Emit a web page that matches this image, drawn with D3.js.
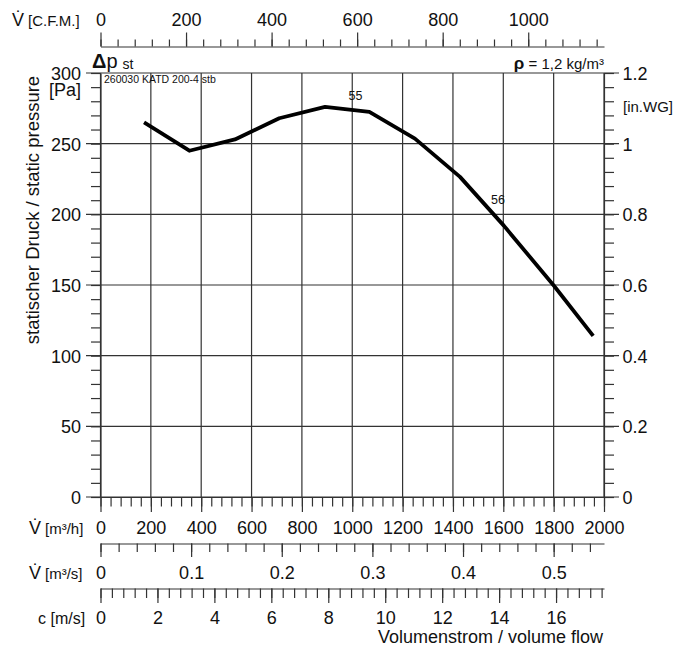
<!DOCTYPE html>
<html>
<head>
<meta charset="utf-8">
<title>Fan curve</title>
<script src="https://d3js.org/d3.v7.min.js"></script>
<style>
  body { margin: 0; padding: 0; background: #fff; overflow: hidden; }
  svg text { font-family: "Liberation Sans", Arial, Helvetica, sans-serif; fill: #111; }
  .domain, .tick line { stroke: #333; }
</style>
</head>
<body>
<svg id="chart" width="693" height="651"></svg>
<script>
// curve: flow in m3/h, static pressure in Pa
var flowM3h = [173, 353, 534, 710, 892, 1068, 1249, 1428, 1602, 1802, 1957];
var pressurePa = [265, 245, 253, 268, 276, 272.5, 253.6, 226.5, 192, 149.3, 114];
var curveLabels = [{text: "55", flow: 1013, pa: 281}, {text: "56", flow: 1579, pa: 207.5}];

var paTicks = [0, 50, 100, 150, 200, 250, 300];
var inwgTicks = [0, 0.2, 0.4, 0.6, 0.8, 1, 1.2];
var m3hTicks = [0, 200, 400, 600, 800, 1000, 1200, 1400, 1600, 1800, 2000];
var cfmTicks = [0, 200, 400, 600, 800, 1000];
var m3sTicks = [0, 0.1, 0.2, 0.3, 0.4, 0.5];
var cTicks = [0, 2, 4, 6, 8, 10, 12, 14, 16];

var CFM = 1.699;          // m3/h per CFM
var PA_PER_INWG = 250;
var DUCT_AREA = Math.PI * 0.1 * 0.1; // 200 mm duct

var svg = d3.select("#chart");
var plotL = 100.5, plotR = 604, plotT = 73, plotB = 497;

var x = d3.scaleLinear().domain([0, 2000]).range([plotL, plotR]);
var y = d3.scaleLinear().domain([0, 300]).range([plotB, plotT]);
var xCfm = d3.scaleLinear().domain([0, 2000 / CFM]).range([plotL, plotR]);
var xM3s = d3.scaleLinear().domain([0, 2000 / 3600]).range([plotL, plotR]);
var xC = d3.scaleLinear().domain([0, 2000 / 3600 / DUCT_AREA]).range([plotL, plotR]);
var yIn = d3.scaleLinear().domain([0, 300 / PA_PER_INWG]).range([plotB, plotT]);

function steps(a, b, s) {
  var out = [];
  for (var i = 0; a + i * s <= b + 1e-9; i++) out.push(+(a + i * s).toFixed(4));
  return out;
}

// helper: axis with minor ticks and major labelled ticks
function doubleAxis(axisFn, scale, minor, major, minorSize, majorSize, transform, fmt) {
  var g = svg.append("g").attr("transform", transform);
  g.append("g").call(axisFn(scale).tickValues(minor).tickSize(minorSize).tickSizeOuter(0).tickFormat(""))
    .selectAll("text").remove();
  var gm = g.append("g").call(axisFn(scale).tickValues(major).tickSize(majorSize).tickSizeOuter(0).tickFormat(fmt));
  gm.select(".domain").remove();
  g.selectAll("line, path").attr("stroke", "#333").attr("stroke-width", 1.2);
  return gm;
}

// top axis C.F.M.
var gTop = doubleAxis(d3.axisTop, xCfm, steps(0, 1160, 40), cfmTicks, 7, 14, "translate(0,46.5)", d3.format("d"));
gTop.selectAll("text").attr("y", -20.5).attr("dy", 0).attr("font-size", 18);

// bottom m3/h axis
var gH = doubleAxis(d3.axisBottom, x, steps(0, 2000, 40), m3hTicks, 9.5, 15, "translate(0," + plotB + ")", d3.format("d"));
gH.selectAll("text").attr("y", 37).attr("dy", 0).attr("font-size", 18);

// m3/s axis
var gS = doubleAxis(d3.axisBottom, xM3s, steps(0, 0.54, 0.02), m3sTicks, 8.5, 13.5, "translate(0,543.5)", d => d === 0 ? "0" : d3.format(".1f")(d));
gS.selectAll("text").attr("y", 35.5).attr("dy", 0).attr("font-size", 18);

// c m/s axis
var gC = doubleAxis(d3.axisBottom, xC, steps(0, 17.6, 0.4), cTicks, 9.5, 14.5, "translate(0,588.5)", d3.format("d"));
gC.selectAll("text").attr("y", 35.5).attr("dy", 0).attr("font-size", 18);

// left Pa axis (major lines come from the grid)
var gL = doubleAxis(d3.axisLeft, y, steps(0, 300, 10), paTicks, 9.5, 14.5, "translate(" + plotL + ",0)", d3.format("d"));
gL.selectAll("line").remove();
gL.selectAll("text").attr("x", -19.5).attr("dy", "0.36em").attr("font-size", 18);

// right in.WG axis
var gR = doubleAxis(d3.axisRight, yIn, steps(0, 1.2, 0.04), inwgTicks, 10, 15, "translate(" + plotR + ",0)", d => d === 0 || d === 1 ? d3.format("d")(d) : d3.format(".1f")(d));
gR.selectAll("line").remove();
gR.selectAll("text").attr("x", 18.5).attr("dy", "0.36em").attr("font-size", 18);

// grid
svg.append("g").selectAll("line").data(paTicks).join("line")
  .attr("x1", 86).attr("x2", 619)
  .attr("y1", d => y(d)).attr("y2", d => y(d))
  .attr("stroke", "#333").attr("stroke-width", 1.2);
svg.append("g").selectAll("line").data(m3hTicks.slice(1, -1)).join("line")
  .attr("x1", d => x(d)).attr("x2", d => x(d))
  .attr("y1", plotT).attr("y2", plotB)
  .attr("stroke", "#333").attr("stroke-width", 1.2);
svg.append("g").selectAll("line").data([0, 2000]).join("line")
  .attr("x1", d => x(d)).attr("x2", d => x(d))
  .attr("y1", plotT).attr("y2", plotB)
  .attr("stroke", "#333").attr("stroke-width", 1.2);

// curve
var pts = flowM3h.map((f, i) => [f, pressurePa[i]]);
svg.append("path")
  .attr("d", d3.line().x(d => x(d[0])).y(d => y(d[1]))(pts))
  .attr("fill", "none").attr("stroke", "#000").attr("stroke-width", 3.8)
  .attr("stroke-linejoin", "round");

svg.append("g").selectAll("text").data(curveLabels).join("text")
  .attr("x", d => x(d.flow)).attr("y", d => y(d.pa))
  .attr("text-anchor", "middle").attr("font-size", 12.5)
  .text(d => d.text);

// axis titles and notes
function vdot(xx, yy, unit) {
  var tx = svg.append("text").attr("x", xx).attr("y", yy).attr("font-size", 18);
  tx.append("tspan").text("V\u0307");
  tx.append("tspan").attr("font-size", 15).attr("dx", 4).text(unit);
  return tx;
}
vdot(12, 26, "[C.F.M.]");
vdot(29, 534, "[m³/h]");
vdot(29, 579, "[m³/s]");
svg.append("text").attr("x", 38).attr("y", 624).attr("font-size", 16).text("c [m/s]");

svg.append("text").attr("x", 603).attr("y", 643).attr("text-anchor", "end").attr("font-size", 18)
  .text("Volumenstrom / volume flow");

svg.append("text").attr("x", 81).attr("y", 96).attr("text-anchor", "end").attr("font-size", 18).text("[Pa]");
svg.append("text").attr("x", 623).attr("y", 112).attr("font-size", 15).text("[in.WG]");

svg.append("text").attr("transform", "translate(39,210) rotate(-90)")
  .attr("text-anchor", "middle").attr("font-size", 18.5)
  .text("statischer Druck / static pressure");

var dp = svg.append("text").attr("x", 92).attr("y", 68).attr("font-size", 20);
dp.append("tspan").attr("font-weight", "bold").text("Δ");
dp.append("tspan").text("p");
dp.append("tspan").attr("font-size", 14).attr("dx", 5).attr("dy", 1).text("st");

svg.append("text").attr("x", 104).attr("y", 83).attr("font-size", 10.5).text("260030 KATD 200-4 stb");

var rho = svg.append("text").attr("x", 604).attr("y", 69).attr("text-anchor", "end").attr("font-size", 15);
rho.append("tspan").attr("font-weight", "bold").attr("font-size", 17).text("ρ");
rho.append("tspan").text(" = 1,2 kg/m³");
</script>
</body>
</html>
